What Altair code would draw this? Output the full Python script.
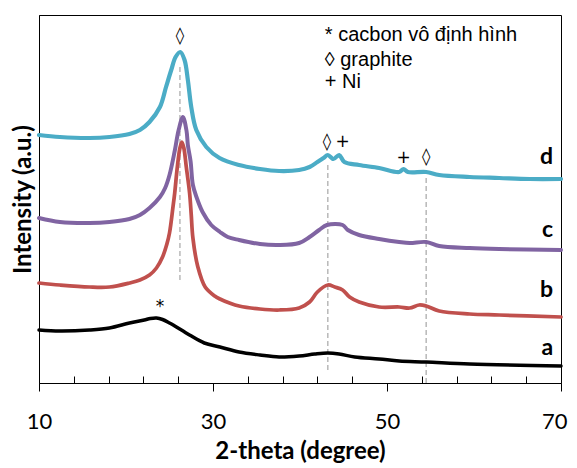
import altair as alt
import pandas as pd

# ---- data (2-theta in degrees, intensity in arbitrary units) ----
x_a = [10.0, 12.4, 15.8, 18.1, 20.4, 22.1, 22.8, 23.5, 24.2, 25.0, 25.6, 27.3, 29.0, 30.8, 33.0,
       35.4, 37.6, 39.9, 41.7, 43.2, 44.5, 46.3, 49.1, 51.4, 54.5, 59.5, 70.0]
y_a = [53, 52, 53, 55, 60, 63, 64.5, 65, 63.5, 60, 57, 48, 40, 36, 31,
       28, 26, 27, 29, 30, 29, 26, 24, 22, 21, 19, 17]

x_b = [10.0, 12.4, 15.8, 18.1, 20.4, 21.6, 22.7, 23.5, 24.2, 24.7, 25.0, 25.4, 25.6, 25.9, 26.2,
       26.42, 26.65, 26.93, 27.31, 27.5, 27.69, 28.26, 29.1, 30.2, 30.8, 31.9, 33.0, 35.4, 37.6, 39.9,
       41.1, 42.0, 43.2, 44.0, 44.9, 45.7, 46.8, 49.1, 51.4, 52.6, 53.7, 54.5, 56.0, 59.5, 62.9, 70.0]
y_b = [100, 98, 96, 96, 100, 103, 108, 115, 126, 139, 150, 176, 190, 216, 235,
       241, 235, 216, 190, 168, 145, 116, 96, 87, 84, 80, 77, 74, 73, 75,
       81, 91, 98, 96, 93, 86, 81, 76, 76, 75, 78, 77, 72, 69, 68, 66]

x_c = [10.0, 12.4, 15.8, 18.1, 20.4, 21.6, 22.7, 23.9, 24.5, 25.0, 25.6, 26.05, 26.54, 26.96, 27.11,
       27.42, 27.69, 28.1, 28.8, 29.8, 30.8, 31.7, 33.0, 35.4, 37.6, 39.9, 41.1, 42.2, 43.1, 44.9,
       45.5, 46.8, 49.1, 51.4, 52.6, 54.5, 56.0, 59.5, 62.9, 70.0]
y_c = [165, 161, 160, 161, 164, 168, 175, 186, 195, 208, 232, 253, 266, 252, 238,
       222, 198, 186, 171, 158, 151, 146, 143, 139, 138, 140, 146, 153, 158, 158,
       153, 148, 144, 141, 140, 141, 137, 135, 134, 133]

x_d = [10.0, 12.4, 15.8, 18.1, 20.4, 21.6, 22.7, 23.9, 24.6, 25.2, 25.7, 26.24, 26.73, 27.11, 27.5,
       28.08, 29.23, 30.75, 33.0, 35.4, 37.6, 39.9, 41.1, 42.0, 42.7, 43.2, 43.85, 44.5, 45.1, 46.8,
       49.1, 51.4, 51.9, 52.4, 54.5, 56.0, 59.5, 62.9, 66.4, 70.0]
y_d = [248, 246, 245, 246, 249, 253, 261, 276, 296, 313, 326, 331, 323, 303, 276,
       253, 236, 225, 218, 214, 212, 213, 216, 221, 225, 228, 224, 228, 221, 218,
       215, 211, 214, 211, 211, 208, 206, 205, 204, 204]

series_names = ["a", "b", "c", "d"]
series_colors = ["#000000", "#C0504D", "#8064A2", "#4BACC6"]

# reference (dashed) lines at graphite peaks
ref_x = [26.2, 43.2, 54.5]
ref_top = [316, 220, 208]
ref_bottom = [103, 13, 0]

# peak markers
mark_text = ["◊", "◊", "+", "+", "◊", "*"]
mark_x = [26.2, 43.1, 44.9, 51.9, 54.5, 23.9]
mark_y = [347, 241, 241, 225, 226, 76]

# key text
key_text = ["* cacbon vô định hình", "◊ graphite", "+ Ni"]
key_x = [42.85, 42.85, 42.85]
key_y = [348, 323, 301]

# series labels
label_x = [69.1, 69.1, 69.1, 69.1]
label_y = [35, 93, 153, 226]

major_ticks = [10, 30, 50, 70]
minor_ticks = [14, 18, 22, 26, 34, 38, 42, 46, 54, 58, 62, 66]

# ---- tables ----
rows = []
for name, xs, ys in zip(series_names, [x_a, x_b, x_c, x_d], [y_a, y_b, y_c, y_d]):
    for xv, yv in zip(xs, ys):
        rows.append({"series": name, "theta": xv, "intensity": yv})
df = pd.DataFrame(rows)
df_ref = pd.DataFrame({"theta": ref_x, "top": ref_top, "bottom": ref_bottom})
df_mark = pd.DataFrame({"t": mark_text, "theta": mark_x, "intensity": mark_y})
df_key = pd.DataFrame({"t": key_text, "theta": key_x, "intensity": key_y})
df_lab = pd.DataFrame({"t": series_names, "theta": label_x, "intensity": label_y})

xscale = alt.Scale(domain=[10, 70], nice=False, zero=False)
yscale = alt.Scale(domain=[0, 368], nice=False, zero=False)

y_axis = alt.Axis(orient="left", labels=False, ticks=False, domain=True, domainColor="black",
                  grid=False, title="Intensity (a.u.)", titleFont="Lato", titleFontSize=24,
                  titleFontWeight="bold", titleColor="black", titlePadding=4)

last_label = "datum.value == 70"
x_main = alt.X("theta:Q", scale=xscale,
               axis=alt.Axis(values=major_ticks, tickSize=8, labelPadding=20, grid=False,
                             labelFlush=False, domainColor="black", tickColor="black", tickWidth=1,
                             labelAlign={"condition": {"test": last_label, "value": "right"}, "value": "center"},
                             labelOffset={"condition": {"test": last_label, "value": 6}, "value": 0},
                             labelFont="Lato", labelFontSize=22, labelColor="black",
                             title="2-theta (degree)", titleFont="Lato", titleFontSize=24,
                             titleFontWeight="bold", titleColor="black", titlePadding=7))
y_main = alt.Y("intensity:Q", scale=yscale, axis=y_axis)
x_plain = alt.X("theta:Q", scale=xscale, axis=None)

minor_layer = alt.Chart(df).mark_point(opacity=0).encode(
    x=alt.X("theta:Q", scale=xscale,
            axis=alt.Axis(orient="bottom", values=minor_ticks, tickSize=7, offset=-7,
                          labels=False, domain=False, grid=False, title=None,
                          tickColor="black", tickWidth=1)),
    y=y_main,
)

refs = alt.Chart(df_ref).mark_rule(color="#A6A6A6", strokeWidth=1.2, strokeDash=[5, 3]).encode(
    x=x_plain, y=alt.Y("bottom:Q", scale=yscale, axis=y_axis), y2="top:Q"
)

lines = alt.Chart(df).mark_line(interpolate="catmull-rom", strokeCap="round", strokeJoin="round").encode(
    x=x_main,
    y=y_main,
    color=alt.Color("series:N", scale=alt.Scale(domain=series_names, range=series_colors), legend=None),
    strokeWidth=alt.StrokeWidth("series:N", scale=alt.Scale(domain=series_names, range=[3.5, 4.2, 4.2, 4.5]),
                                legend=None),
)

marks = alt.Chart(df_mark).mark_text(font="DejaVu Sans", fontSize=17, color="black",
                                     baseline="middle", align="center").encode(
    x=x_plain, y=y_main, text="t:N"
)

key = alt.Chart(df_key).mark_text(font="Liberation Sans", fontSize=20, color="black",
                                  baseline="middle", align="left").encode(
    x=x_plain, y=y_main, text="t:N"
)

labels = alt.Chart(df_lab).mark_text(font="Lato", fontSize=23, fontWeight="bold", color="black",
                                     baseline="middle", align="right").encode(
    x=x_plain, y=y_main, text="t:N"
)

chart = alt.layer(refs, lines, marks, key, labels, minor_layer).resolve_axis(
    x="independent"
).properties(
    width=522, height=368,
    padding={"left": 31, "top": 7, "right": 8, "bottom": 85},
    autosize=alt.AutoSizeParams(type="none"),
).configure_view(stroke="black", strokeWidth=1)

chart.save("out.html", embed_options={"renderer": "svg", "actions": False})
